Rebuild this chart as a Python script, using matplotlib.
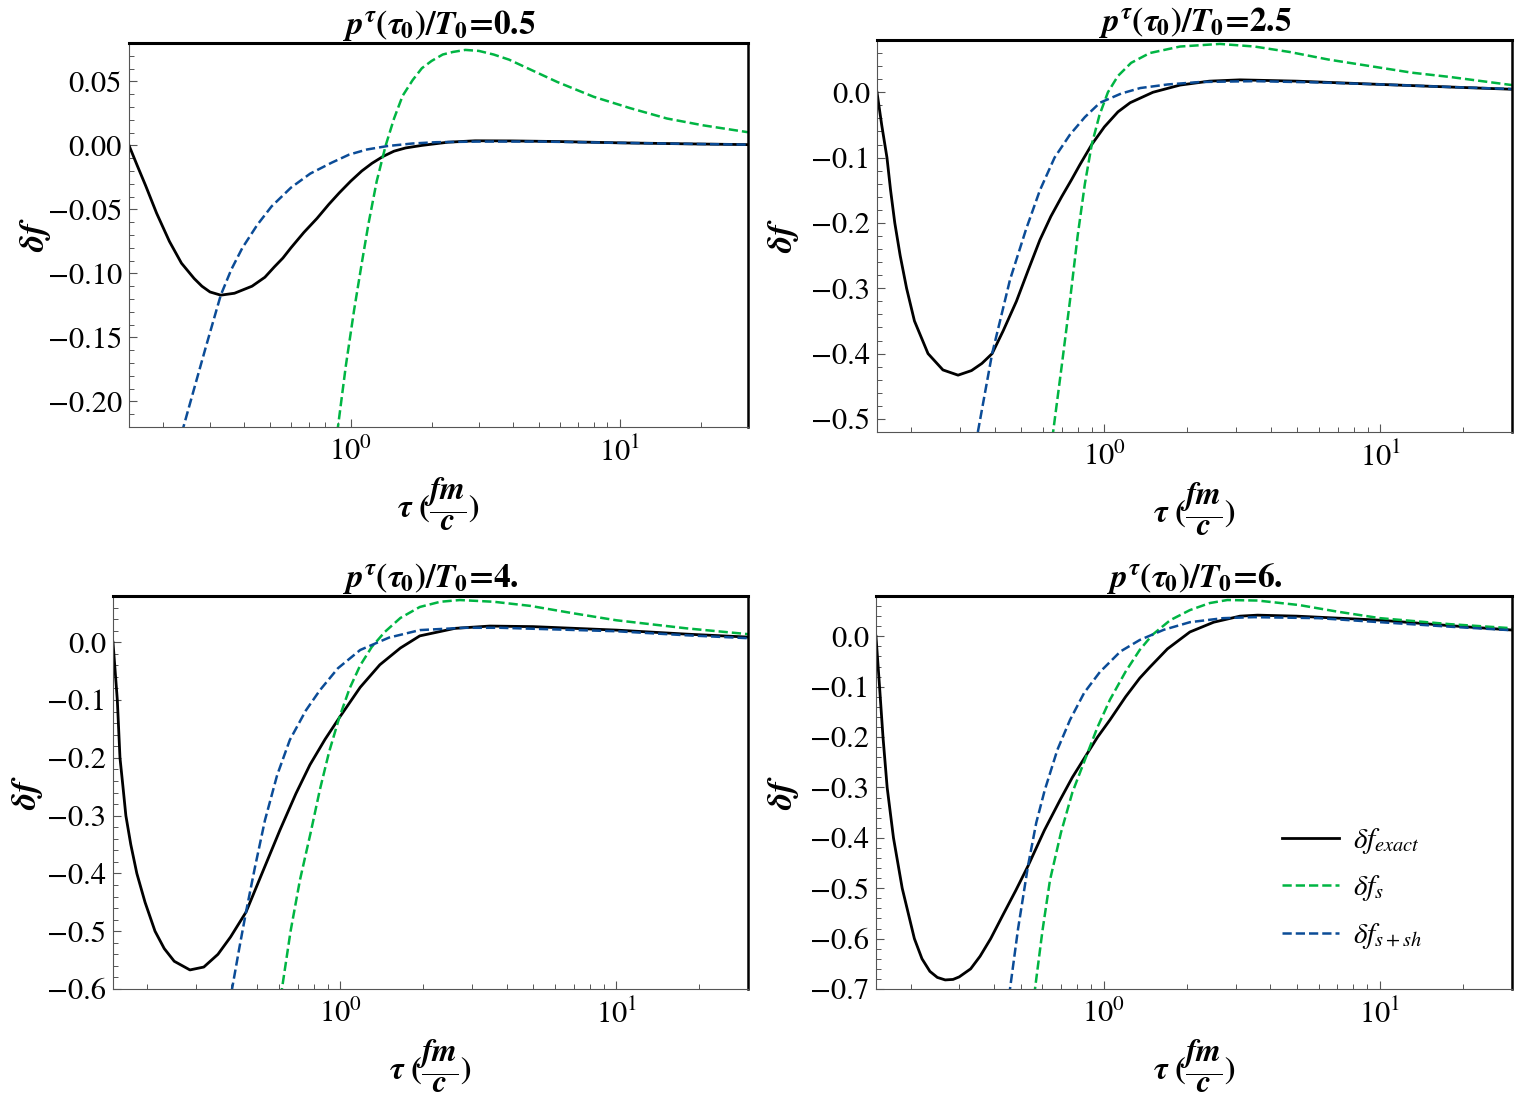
import matplotlib
matplotlib.use("Agg")
import matplotlib.pyplot as plt
from matplotlib.ticker import AutoMinorLocator, MultipleLocator

plt.rcParams['font.family'] = 'STIXGeneral'
plt.rcParams['mathtext.fontset'] = 'stix'
# bold fonts for the "custom" math family, used by titles and axis labels
plt.rcParams['mathtext.rm'] = 'STIXGeneral:bold'
plt.rcParams['mathtext.it'] = 'STIXGeneral:italic:bold'
plt.rcParams['mathtext.bf'] = 'STIXGeneral:bold'

# p^tau(tau0)/T0 values, one per panel
ratios = ["0.5", "2.5", "4.", "6."]
ylims = [(-0.22, 0.08), (-0.52, 0.08), (-0.60, 0.08), (-0.70, 0.08)]
ysteps = [0.05, 0.1, 0.1, 0.1]

# panel 1
tau_exact_1 = [0.15, 0.161, 0.173, 0.19, 0.212, 0.235, 0.262, 0.28, 0.30, 0.329, 0.37, 0.43, 0.48, 0.52,
               0.56, 0.60, 0.67, 0.75, 0.83, 0.908, 1.0, 1.1, 1.2, 1.32, 1.45, 1.6, 1.84, 2.3, 2.9,
               4.0, 6.0, 10, 18, 30]
exact_1 = [0.0, -0.0158, -0.0315, -0.053, -0.075, -0.092, -0.104, -0.110, -0.1145, -0.117, -0.1155,
           -0.110, -0.103, -0.095, -0.088, -0.080, -0.068, -0.057, -0.046, -0.037, -0.028, -0.020,
           -0.014, -0.0086, -0.0045, -0.002, 0.0, 0.0025, 0.0036, 0.0035, 0.003, 0.002, 0.0012, 0.0006]
tau_s_1 = [0.88, 0.897, 0.96, 1.03, 1.1, 1.165, 1.25, 1.35, 1.45, 1.56, 1.7, 1.84, 2.0, 2.2, 2.4, 2.67,
           3.0, 3.4, 3.88, 4.8, 5.87, 8.0, 10.9, 15, 20.4, 30]
s_1 = [-0.245, -0.22, -0.172, -0.1287, -0.092, -0.0612, -0.028, 0.0, 0.021, 0.0387, 0.051, 0.0603,
       0.066, 0.071, 0.073, 0.0746, 0.0738, 0.071, 0.067, 0.058, 0.0495, 0.038, 0.0292, 0.021, 0.0157,
       0.0103]
tau_ssh_1 = [0.225, 0.239, 0.262, 0.29, 0.329, 0.36, 0.396, 0.45, 0.508, 0.60, 0.708, 0.85, 0.987,
             1.15, 1.37, 1.7, 2.08, 3.0, 5.0, 10, 18, 30]
ssh_1 = [-0.245, -0.22, -0.19, -0.157, -0.117, -0.097, -0.080, -0.062, -0.0477, -0.033, -0.022,
         -0.0135, -0.0072, -0.0032, -0.0005, 0.0015, 0.0025, 0.003, 0.003, 0.002, 0.0012, 0.0006]

# panel 2
tau_exact_2 = [0.15, 0.156, 0.163, 0.168, 0.174, 0.182, 0.192, 0.205, 0.2296, 0.26, 0.295, 0.33, 0.36,
               0.392, 0.43, 0.48, 0.53, 0.584, 0.64, 0.70, 0.76, 0.815, 0.90, 1.0, 1.12, 1.24, 1.5,
               1.88, 2.4, 3.1, 5, 9.2, 18, 30]
exact_2 = [0.0, -0.05, -0.1, -0.15, -0.2, -0.25, -0.3, -0.35, -0.4, -0.425, -0.433, -0.426, -0.415,
           -0.40, -0.365, -0.32, -0.272, -0.226, -0.19, -0.16, -0.134, -0.111, -0.08, -0.053, -0.03,
           -0.016, 0.0, 0.011, 0.017, 0.019, 0.017, 0.0126, 0.008, 0.0046]
tau_s_2 = [0.64, 0.652, 0.70, 0.75, 0.80, 0.85, 0.90, 0.96, 1.03, 1.12, 1.25, 1.46, 1.88, 2.62, 3.5,
           4.7, 6.5, 9.2, 13, 17.9, 30]
s_2 = [-0.55, -0.52, -0.42, -0.32, -0.22, -0.14, -0.08, -0.035, 0.0, 0.025, 0.045, 0.06, 0.07, 0.074,
       0.070, 0.0616, 0.050, 0.040, 0.030, 0.0234, 0.011]
tau_ssh_2 = [0.335, 0.348, 0.392, 0.455, 0.52, 0.584, 0.66, 0.75, 0.85, 0.964, 1.15, 1.35, 1.7, 2.22,
             3.5, 6, 10, 18, 30]
ssh_2 = [-0.56, -0.52, -0.40, -0.287, -0.21, -0.150, -0.10, -0.065, -0.038, -0.016, -0.002, 0.0065,
         0.012, 0.0157, 0.017, 0.015, 0.012, 0.008, 0.005]

# panel 3
tau_exact_3 = [0.15, 0.1555, 0.159, 0.163, 0.167, 0.174, 0.183, 0.196, 0.213, 0.23, 0.25, 0.285, 0.32,
               0.36, 0.40, 0.455, 0.52, 0.604, 0.69, 0.776, 0.88, 0.99, 1.18, 1.39, 1.65, 1.94, 2.6,
               3.48, 5, 10, 18, 30]
exact_3 = [0.0, -0.1, -0.2, -0.25, -0.3, -0.35, -0.4, -0.45, -0.5, -0.53, -0.552, -0.567, -0.562,
           -0.54, -0.51, -0.467, -0.40, -0.325, -0.262, -0.212, -0.168, -0.131, -0.078, -0.039, -0.01,
           0.011, 0.024, 0.028, 0.027, 0.021, 0.014, 0.0089]
tau_s_3 = [0.60, 0.614, 0.66, 0.714, 0.78, 0.843, 0.91, 0.99, 1.08, 1.18, 1.3, 1.45, 1.65, 1.94, 2.3,
           2.71, 3.6, 4.86, 7, 10, 18, 30]
s_3 = [-0.66, -0.60, -0.50, -0.411, -0.33, -0.255, -0.19, -0.131, -0.08, -0.04, -0.008, 0.018, 0.042,
       0.061, 0.070, 0.073, 0.070, 0.063, 0.050, 0.038, 0.024, 0.014]
tau_ssh_3 = [0.39, 0.405, 0.43, 0.455, 0.49, 0.533, 0.59, 0.656, 0.75, 0.843, 0.98, 1.18, 1.5, 1.94,
             2.8, 3.8, 10, 18, 30]
ssh_3 = [-0.65, -0.60, -0.53, -0.467, -0.39, -0.308, -0.23, -0.169, -0.118, -0.083, -0.045, -0.0134,
         0.008, 0.021, 0.025, 0.025, 0.019, 0.012, 0.007]

# panel 4
tau_exact_4 = [0.15, 0.1545, 0.159, 0.1646, 0.1735, 0.1866, 0.2065, 0.22, 0.235, 0.25, 0.267, 0.285,
               0.30, 0.33, 0.357, 0.39, 0.43, 0.48, 0.532, 0.61, 0.695, 0.77, 0.855, 0.95, 1.053, 1.2,
               1.35, 1.47, 1.7, 2.05, 2.5, 3.11, 3.6, 5, 10, 18, 30]
exact_4 = [0.0, -0.1, -0.2, -0.3, -0.4, -0.5, -0.6, -0.64, -0.665, -0.677, -0.682, -0.681, -0.676,
           -0.66, -0.635, -0.60, -0.555, -0.505, -0.456, -0.385, -0.325, -0.28, -0.24, -0.20, -0.166,
           -0.12, -0.083, -0.061, -0.025, 0.0086, 0.028, 0.040, 0.042, 0.040, 0.032, 0.021, 0.0125]
tau_s_4 = [0.555, 0.564, 0.60, 0.639, 0.70, 0.77, 0.855, 0.95, 1.053, 1.2, 1.35, 1.5, 1.74, 2.05, 2.42,
           2.8, 3.6, 5.1, 7, 10, 18, 30]
s_4 = [-0.74, -0.70, -0.585, -0.484, -0.39, -0.31, -0.245, -0.18, -0.126, -0.07, -0.027, 0.003, 0.032,
       0.052, 0.066, 0.072, 0.071, 0.062, 0.049, 0.036, 0.024, 0.016]
tau_ssh_4 = [0.445, 0.458, 0.49, 0.532, 0.57, 0.612, 0.68, 0.755, 0.85, 0.968, 1.15, 1.35, 1.65, 2.05,
             2.7, 3.5, 6, 10, 18, 30]
ssh_4 = [-0.74, -0.70, -0.58, -0.456, -0.37, -0.305, -0.225, -0.166, -0.112, -0.071, -0.03, -0.0073,
         0.013, 0.028, 0.036, 0.038, 0.036, 0.028, 0.019, 0.012]

panels = [
    (tau_exact_1, exact_1, tau_s_1, s_1, tau_ssh_1, ssh_1),
    (tau_exact_2, exact_2, tau_s_2, s_2, tau_ssh_2, ssh_2),
    (tau_exact_3, exact_3, tau_s_3, s_3, tau_ssh_3, ssh_3),
    (tau_exact_4, exact_4, tau_s_4, s_4, tau_ssh_4, ssh_4),
]

W, H = 1515, 1109
# axes boxes in pixels: left, right, top, bottom
boxes = [(129, 748, 43, 427), (877, 1512, 40, 432), (113, 748, 596, 989), (876, 1512, 596, 989)]
# x pixel of the right edge of the "delta f" label
ylabel_x = [53, 801, 45, 801]

green = '#00b543'
blue = '#0b4c97'

fig = plt.figure(figsize=(W / 100, H / 100), dpi=100)

for i, (te, ye, ts, ys, tsh, ysh) in enumerate(panels):
    l, r, t, b = boxes[i]
    ax = fig.add_axes([l / W, 1 - b / H, (r - l) / W, (b - t) / H])
    ax.plot(te, ye, color='black', lw=2.0, label=r'$\delta f_{exact}$', solid_joinstyle='round')
    ax.plot(ts, ys, color=green, lw=1.8, ls='--', label=r'$\delta f_{s}$')
    ax.plot(tsh, ysh, color=blue, lw=1.8, ls='--', label=r'$\delta f_{s+sh}$')
    ax.set_xscale('log')
    ax.set_xlim(0.15, 30)
    ax.set_ylim(*ylims[i])
    ax.yaxis.set_major_locator(MultipleLocator(ysteps[i]))
    ax.yaxis.set_minor_locator(AutoMinorLocator())
    ax.tick_params(which='both', direction='in', labelsize=22, color='#555555')
    ax.tick_params(which='major', length=6, width=0.8)
    ax.tick_params(which='minor', length=3.5, width=0.7)
    ax.tick_params(axis='x', pad=8)
    ax.tick_params(axis='y', pad=5)
    ax.spines['top'].set_linewidth(2.2)
    ax.spines['right'].set_linewidth(1.8)
    for s in ['left', 'bottom']:
        ax.spines[s].set_linewidth(0.8)
        ax.spines[s].set_color('#555555')
    ax.set_title(r'$p^{\tau}(\tau_0)/T_0$=' + ratios[i], fontsize=24, fontweight='bold', pad=3,
                 math_fontfamily='custom')
    ax.set_ylabel(r'$\delta f$', fontsize=25, math_fontfamily='custom')
    ax.yaxis.set_label_coords((ylabel_x[i] - l) / (r - l), 0.5)
    ax.set_xlabel(r'$\tau\ (\dfrac{fm}{c})$', fontsize=23, labelpad=5, math_fontfamily='custom')
    if i == 3:
        ax.legend(loc='lower right', bbox_to_anchor=(0.9, 0.03), frameon=False, fontsize=21,
                  handlelength=1.95, labelspacing=0.6, handletextpad=0.5)

fig.savefig('out.png', dpi=100)
